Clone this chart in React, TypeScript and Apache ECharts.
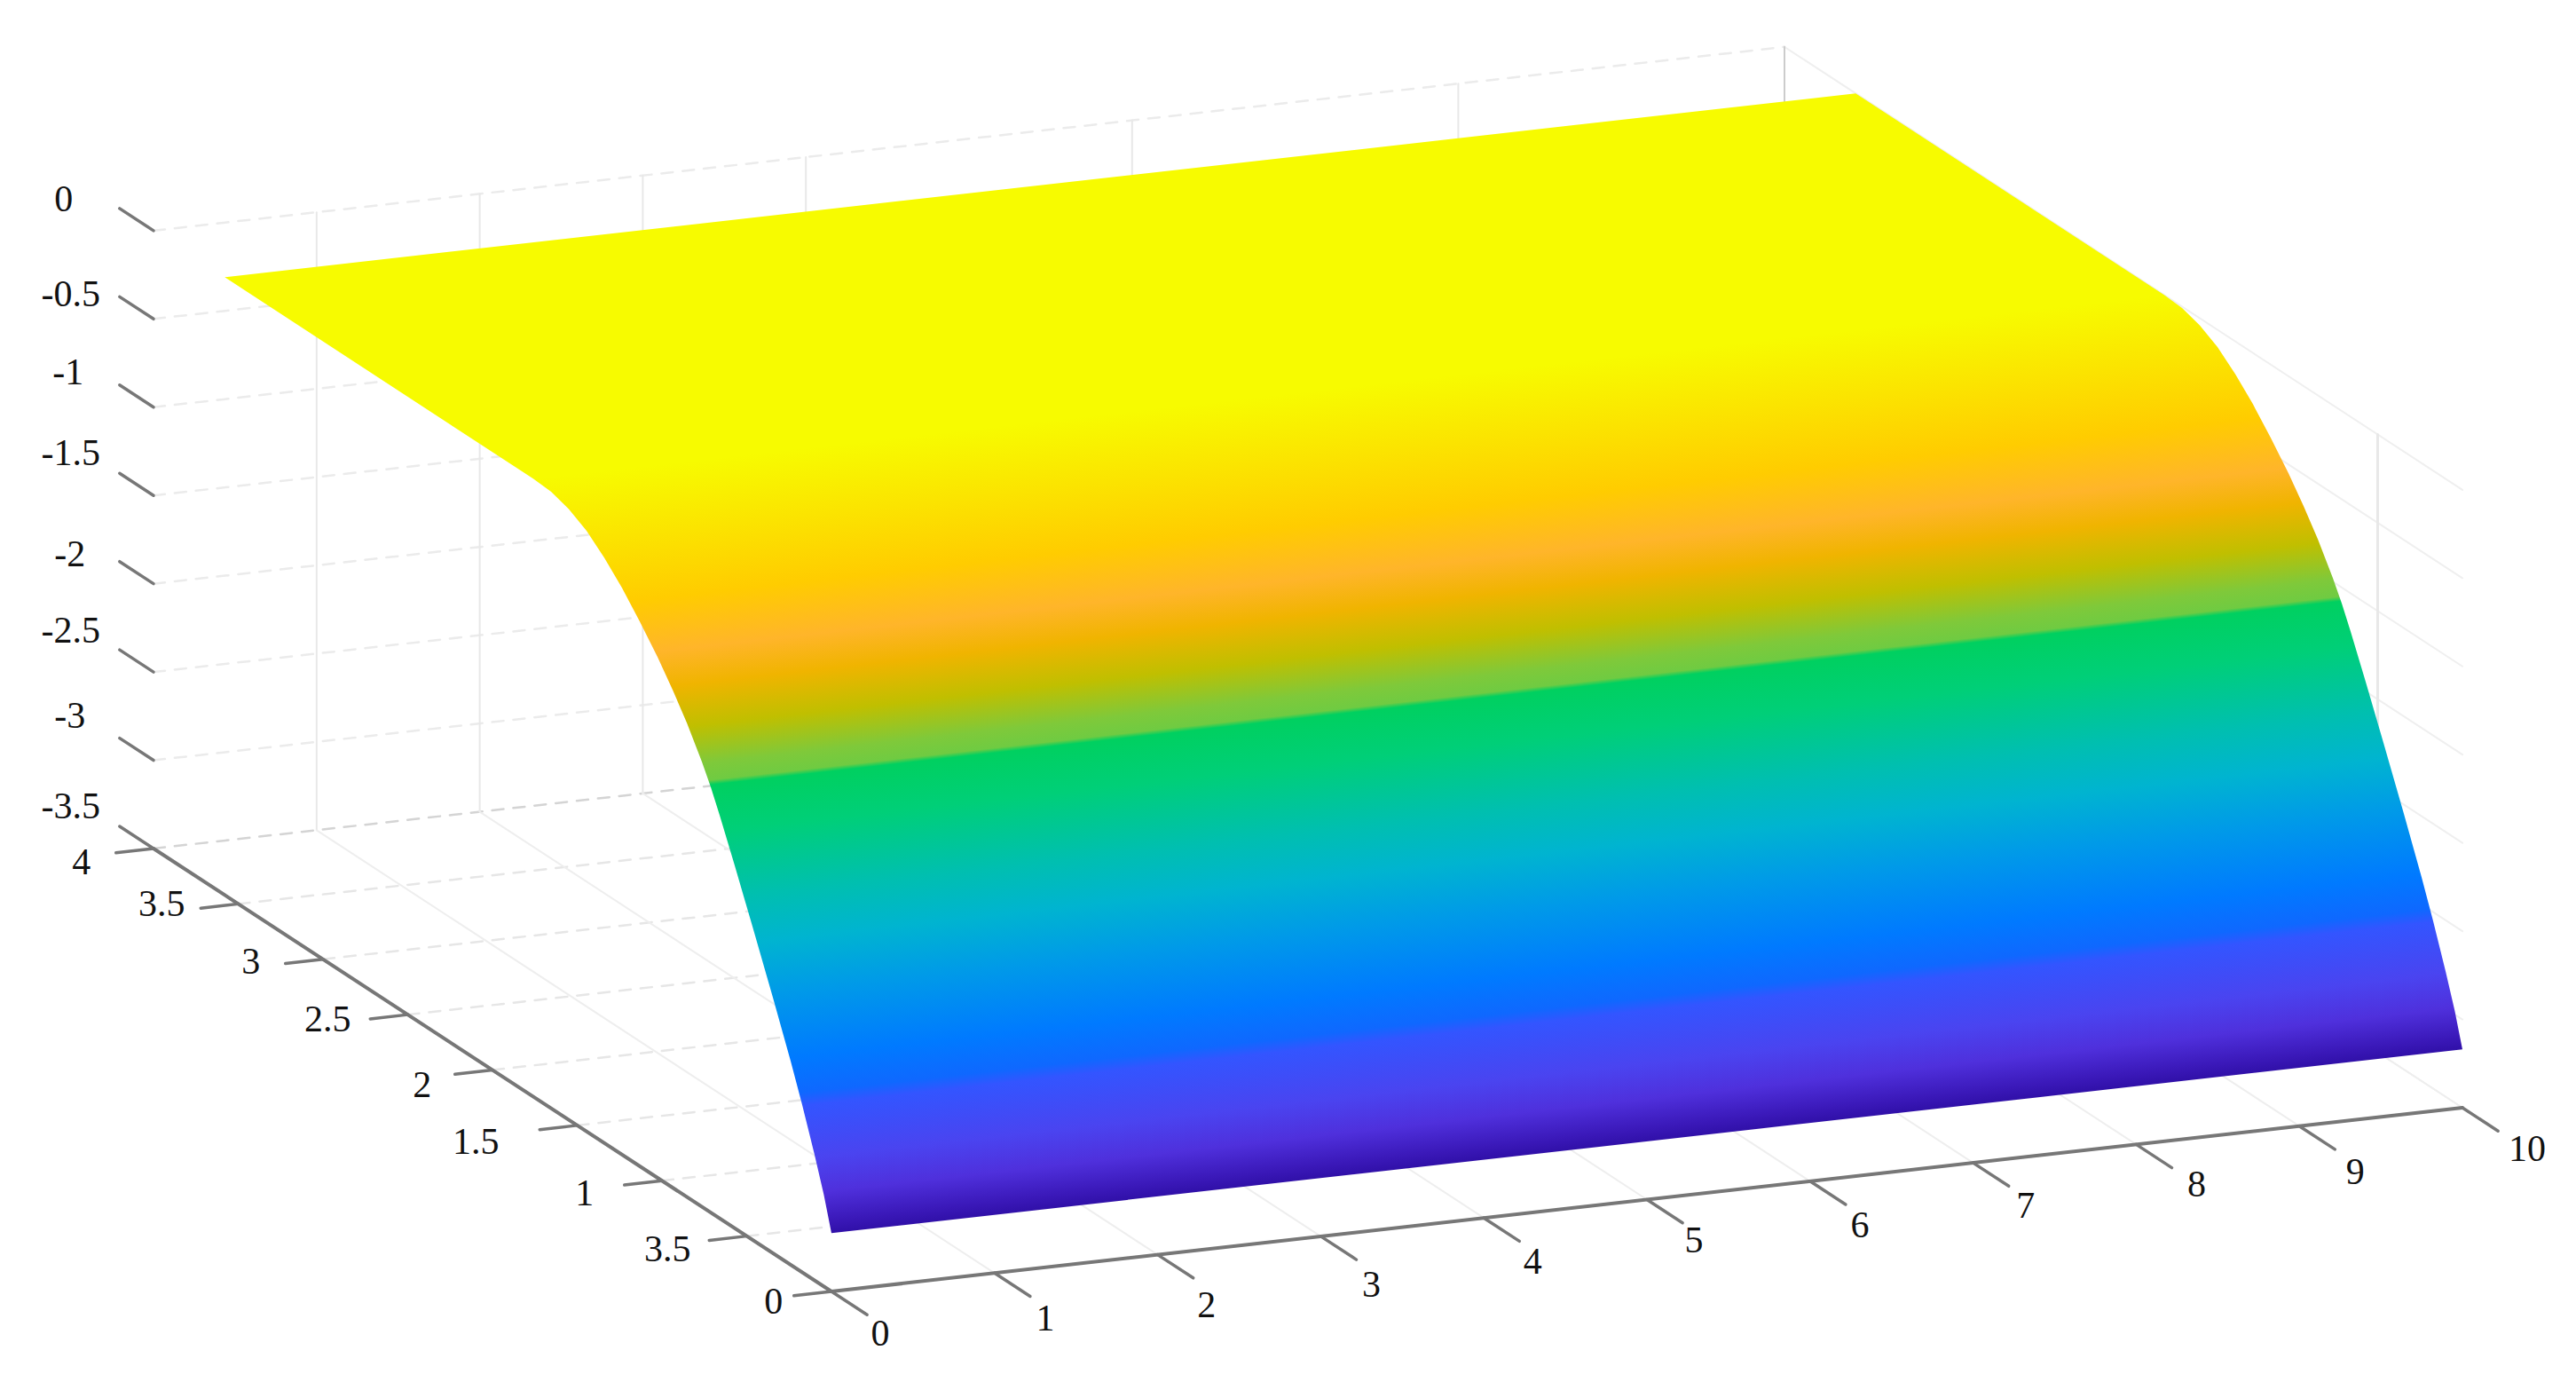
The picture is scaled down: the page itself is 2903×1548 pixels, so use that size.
import React, { useEffect, useRef } from "react";
import * as echarts from "echarts";

// ---- tick values and labels ----
const xTicks = [0, 1, 2, 3, 4, 5, 6, 7, 8, 9, 10];
const yTicks = [0, 0.5, 1, 1.5, 2, 2.5, 3, 3.5, 4];
const yTickLabels = ["0", "3.5", "1", "1.5", "2", "2.5", "3", "3.5", "4"];
const zTicks = [0, -0.5, -1, -1.5, -2, -2.5, -3, -3.5];
const zTickLabels = ["0", "-0.5", "-1", "-1.5", "-2", "-2.5", "-3", "-3.5"];

// back-wall verticals and right-wall verticals that show in the picture
const backWallVerticalsAtX = [1, 2, 3, 4, 6, 8, 10];
const rightWallVerticalsAtY = [0.5];

// ---- surface profile: every row runs from x = 0 to x = 10 ----
const surfaceXRange = [0, 10];
const surfaceY = [3.58, 1.76, 1.654, 1.55, 1.445, 1.34, 1.236, 1.131, 1.026, 0.937, 0.853, 0.764, 0.712, 0.66, 0.571, 0.466, 0.346, 0.241, 0.173, 0.099, 0.045, 0];
const surfaceZ = [0, 0, -0.008, -0.04, -0.098, -0.185, -0.29, -0.415, -0.55, -0.68, -0.815, -0.98, -1.09, -1.215, -1.445, -1.725, -2.05, -2.345, -2.55, -2.79, -2.98, -3.17];

// ---- colour bands on the surface, by height ----
const bandZ = [0, -0.125, -0.34, -0.53, -0.665, -0.83, -0.985, -1.06, -1.08, -1.285, -1.585, -1.795, -2.03, -2.33, -2.495, -2.555, -2.8, -2.965, -3.11, -3.17];
const bandColor = ["#f7fb00", "#fbe400", "#ffcc00", "#ffb52a", "#f0b400", "#c0bf00", "#7fc93a", "#6fcb42", "#00d060", "#00cf78", "#00bfb0", "#00b4d0", "#009ae8", "#007aff", "#0f68ff", "#3355ff", "#4a44f0", "#4f30dc", "#3a18b8", "#3010a8"];

// ---- view (orthographic projection onto the page plane) ----
const ORIGIN = [929, 1447];
const PER_X = [183.8, -20.7];
const PER_Y = [-191, -124.75];
const PER_Z = 198.9;
const Z_MIN = -3.5;
const project = (x: number, y: number, z: number) => [
  ORIGIN[0] + x * PER_X[0] + y * PER_Y[0],
  ORIGIN[1] + x * PER_X[1] + y * PER_Y[1] - (z - Z_MIN) * PER_Z,
];

// ---- label placement relative to the outer end of each tick ----
const xLabelNudge = [[15, 21], [17, 25], [15, 30], [17, 28], [15, 23], [13, 19], [16, 23], [19, 22], [28, 18], [23, 25], [33, 20]];
const yLabelNudge = [[-23, 6], [-47, 10], [-45, 9], [-72, 13], [-37, 12], [-48, 0], [-39, -3], [-44, -5], [-39, 10]];
const zLabelNudge = [[-63, -11], [-55, -3], [-58, -15], [-55, -23], [-56, -9], [-55, -22], [-56, -26], [-55, -23]];

const FONT = '42px "Liberation Serif"';
const AXIS = "#777777";

function App() {
  const ref = useRef<HTMLDivElement>(null);
  useEffect(() => {
    const chart = echarts.init(ref.current!, null, { renderer: "svg" });

    const seg = (api: any, a: number[], b: number[], stroke: string, lineWidth: number, lineDash?: number[]) => {
      const p = api.coord(project(a[0], a[1], a[2]));
      const q = api.coord(project(b[0], b[1], b[2]));
      return {
        type: "line",
        shape: { x1: p[0], y1: p[1], x2: q[0], y2: q[1] },
        style: { stroke, lineWidth, lineDash, fill: null, lineCap: "round" },
      };
    };
    const label = (api: any, at: number[], nudge: number[], text: string) => {
      const p = api.coord(project(at[0], at[1], at[2]));
      return {
        type: "text",
        style: {
          text,
          x: p[0] + nudge[0],
          y: p[1] + nudge[1],
          fill: "#111",
          font: FONT,
          textAlign: "center",
          textVerticalAlign: "middle",
        },
      };
    };

    const renderWalls = (_: any, api: any) => {
      const children: any[] = [];
      const dash = [13, 11];
      // back wall y = 4
      zTicks.forEach((z) => {
        const bottom = z === Z_MIN;
        children.push(seg(api, [0, 4, z], [10, 4, z], bottom ? "#d4d4d4" : "#ebebeb", 2.5, dash));
        children.push(seg(api, [10, 4, z], [10, 0, z], "#efefef", 2));
      });
      backWallVerticalsAtX.forEach((x) => {
        children.push(seg(api, [x, 4, Z_MIN], [x, 4, 0], x === 10 ? "#cccccc" : "#e8e8e8", 2));
      });
      // right wall x = 10
      rightWallVerticalsAtY.forEach((y) => {
        children.push(seg(api, [10, y, Z_MIN], [10, y, 0], "#e8e8e8", 3));
      });
      // floor
      yTicks.forEach((y) => {
        if (y < 4) children.push(seg(api, [0, y, Z_MIN], [10, y, Z_MIN], "#e6e6e6", 2.5, dash));
      });
      xTicks.forEach((x) => {
        if (x > 0) children.push(seg(api, [x, 0, Z_MIN], [x, 4, Z_MIN], "#eeeeee", 2));
      });
      return { type: "group", children };
    };

    const renderSurface = (_: any, api: any) => {
      const [x0, x1] = surfaceXRange;
      const left = surfaceY.map((y, i) => api.coord(project(x0, y, surfaceZ[i])));
      const right = surfaceY.map((y, i) => api.coord(project(x1, y, surfaceZ[i])));
      const dx = right[0][0] - left[0][0];
      const dy = right[0][1] - left[0][1];
      const len = Math.hypot(dx, dy);
      const n = [-dy / len, dx / len];
      const start = left[0];
      const dist = left.map((p: number[]) => (p[0] - start[0]) * n[0] + (p[1] - start[1]) * n[1]);
      const total = dist[dist.length - 1];
      const distAtZ = (z: number) => {
        for (let i = 1; i < surfaceZ.length; i++) {
          const a = surfaceZ[i - 1];
          const b = surfaceZ[i];
          if (a !== b && z <= a && z >= b) return dist[i - 1] + ((a - z) / (a - b)) * (dist[i] - dist[i - 1]);
        }
        return dist[1];
      };
      const fill = new echarts.graphic.LinearGradient(
        start[0],
        start[1],
        start[0] + n[0] * total,
        start[1] + n[1] * total,
        bandColor.map((color, i) => ({ offset: distAtZ(bandZ[i]) / total, color })),
        true
      );
      return {
        type: "polygon",
        shape: { points: [...left, ...right.slice().reverse()] },
        style: { fill },
      };
    };

    const renderAxes = (_: any, api: any) => {
      const children: any[] = [];
      const xTickLen = 0.21;
      const yTickLen = 0.23;
      const zTickLen = 0.2;
      children.push(seg(api, [0, 0, Z_MIN], [10, 0, Z_MIN], AXIS, 4));
      children.push(seg(api, [0, 0, Z_MIN], [0, 4, Z_MIN], AXIS, 4));
      xTicks.forEach((x, i) => {
        const end = [x, -xTickLen, Z_MIN];
        children.push(seg(api, [x, 0, Z_MIN], end, AXIS, 3.5));
        children.push(label(api, end, xLabelNudge[i], String(x)));
      });
      yTicks.forEach((y, i) => {
        const end = [-yTickLen, y, Z_MIN];
        children.push(seg(api, [0, y, Z_MIN], end, AXIS, 3.5));
        children.push(label(api, end, yLabelNudge[i], yTickLabels[i]));
      });
      zTicks.forEach((z, i) => {
        const end = [0, 4 + zTickLen, z];
        children.push(seg(api, [0, 4, z], end, AXIS, 3.5));
        children.push(label(api, end, zLabelNudge[i], zTickLabels[i]));
      });
      return { type: "group", children };
    };

    const one = [[0, 0]];
    chart.setOption({
      animation: false,
      backgroundColor: "#ffffff",
      grid: { left: 0, right: 0, top: 0, bottom: 0 },
      xAxis: { type: "value", min: 0, max: 2903, show: false },
      yAxis: { type: "value", min: 0, max: 1548, inverse: true, show: false },
      tooltip: { show: false },
      series: [
        { type: "custom", silent: true, clip: false, data: one, z: 1, renderItem: renderWalls },
        { type: "custom", silent: true, clip: false, data: one, z: 2, renderItem: renderSurface },
        { type: "custom", silent: true, clip: false, data: one, z: 3, renderItem: renderAxes },
      ],
    });
    return () => chart.dispose();
  }, []);
  return <div ref={ref} style={{ position: "fixed", left: 0, top: 0, width: 2903, height: 1548 }} />;
}

export default App;
